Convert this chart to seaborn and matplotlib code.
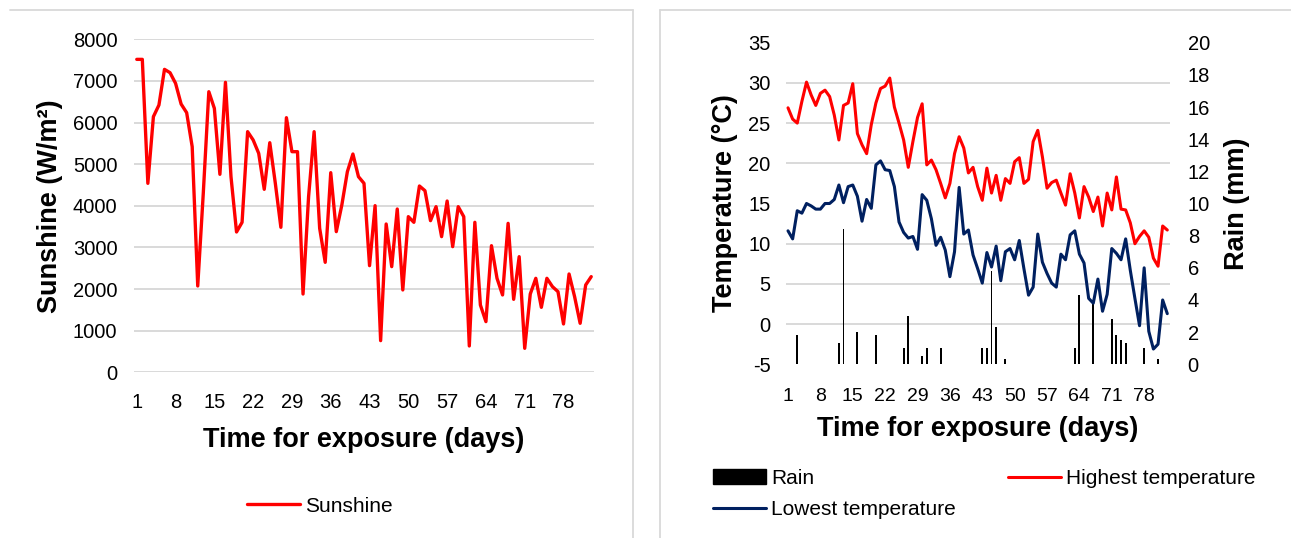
import numpy as np
import pandas as pd
import matplotlib
matplotlib.use("Agg")
import matplotlib.pyplot as plt
import seaborn as sns
from matplotlib.patches import Patch
from matplotlib.lines import Line2D

sns.set_theme(style="white")
plt.rcParams['font.family'] = ['Liberation Sans', 'DejaVu Sans']
plt.rcParams['text.color'] = 'black'
plt.rcParams['axes.labelcolor'] = 'black'
plt.rcParams['xtick.color'] = 'black'
plt.rcParams['ytick.color'] = 'black'

days = list(range(1, 84))
sunshine = [7518, 7518, 4540, 6141, 6421, 7278, 7198, 6942, 6445, 6237,
            5420, 2074, 4300, 6741, 6341, 4756, 6966, 4700, 3371, 3603,
            5781, 5581, 5260, 4396, 5516, 4540, 3483, 6117, 5300, 5300,
            1881, 4219, 5781, 3459, 2642, 4796, 3379, 4019, 4820, 5244,
            4700, 4540, 2562, 4003, 761, 3563, 2538, 3923, 1978, 3739,
            3603, 4476, 4363, 3643, 3979, 3259, 4115, 3018, 3979, 3739,
            633, 3603, 1617, 1217, 3042, 2258, 1858, 3579, 1753, 2778,
            576, 1881, 2258, 1561, 2258, 2058, 1938, 1161, 2362, 1817,
            1177, 2098, 2298]
high_temp = [26.9, 25.5, 25.0, 27.7, 30.1, 28.5, 27.2, 28.7, 29.1, 28.3,
             26.0, 22.9, 27.2, 27.5, 29.9, 23.7, 22.3, 21.2, 24.8, 27.5,
             29.3, 29.6, 30.6, 27.0, 25.0, 22.9, 19.5, 22.7, 25.7, 27.4,
             19.8, 20.4, 19.2, 17.5, 15.7, 17.5, 21.2, 23.3, 21.9, 18.8,
             19.5, 17.1, 15.4, 19.4, 16.3, 18.5, 15.4, 18.1, 17.5, 20.2,
             20.7, 17.5, 18.0, 22.7, 24.1, 20.8, 16.9, 17.6, 17.9, 16.3,
             14.8, 18.7, 16.3, 13.2, 17.1, 15.8, 14.0, 15.8, 12.2, 16.3,
             14.2, 18.3, 14.3, 14.2, 12.6, 10.0, 10.9, 11.6, 10.8, 8.2,
             7.2, 12.2, 11.7]
low_temp = [11.6, 10.6, 14.1, 13.8, 15.0, 14.7, 14.3, 14.3, 15.0, 15.0,
            15.5, 17.3, 15.1, 17.1, 17.3, 15.9, 12.8, 15.5, 14.4, 19.8,
            20.3, 19.2, 19.1, 17.1, 12.7, 11.4, 10.7, 10.9, 9.3, 16.1,
            15.4, 13.1, 9.8, 10.8, 9.2, 5.9, 9.0, 17.0, 11.2, 11.7,
            8.6, 6.9, 5.1, 8.9, 7.1, 9.7, 5.4, 9.0, 9.4, 8.0,
            10.4, 6.9, 3.6, 4.6, 11.2, 7.7, 6.3, 5.1, 4.6, 8.7,
            8.0, 11.1, 11.6, 8.7, 7.6, 3.2, 2.6, 5.6, 1.6, 3.7,
            9.4, 8.8, 8.0, 10.6, 6.7, 3.2, -0.2, 7.0, -0.9, -3.1,
            -2.5, 3.0, 1.3]
rain = [0, 0, 1.8, 0, 0, 0, 0, 0, 0, 0,
        0, 1.3, 8.4, 0, 0, 2.0, 0, 0, 0, 1.8,
        0, 0, 0, 0, 0, 1.0, 3.0, 0, 0, 0.5,
        1.0, 0, 0, 1.0, 0, 0, 0, 0, 0, 0,
        0, 0, 1.0, 1.0, 5.8, 2.3, 0, 0.3, 0, 0,
        0, 0, 0, 0, 0, 0, 0, 0, 0, 0,
        0, 0, 1.0, 4.3, 0, 0, 3.8, 0, 0, 0,
        2.8, 1.8, 1.5, 1.3, 0, 0, 0, 1.0, 0, 0,
        0.3, 0, 0]
x_ticks = days[::7]

RED = '#FF0000'
NAVY = '#002060'
GRID = '#D9D9D9'
TICK_FS = 14.5
TITLE_FS = 19.5
LEG_FS = 15

W, H = 1291, 538
fig = plt.figure(figsize=(W / 100, H / 100), dpi=100)


def fx(px):
    return px / W


def fy(py):
    return 1 - py / H


# chart area frames (top + inner vertical edges)
for xs, ys in [((10, 633), (10, 10)), ((633, 633), (10, 540)),
               ((660, 1291), (10, 10)), ((660, 660), (10, 540))]:
    fig.add_artist(Line2D([fx(xs[0]), fx(xs[1])], [fy(ys[0]), fy(ys[1])],
                          transform=fig.transFigure, color=GRID, lw=1.3))

# ---------------- left: sunshine ----------------
ax1 = fig.add_axes([fx(134), fy(372.3), 460 / W, 333 / H])
df1 = pd.DataFrame({'day': days, 'sun': sunshine})
sns.lineplot(data=df1, x='day', y='sun', color=RED, lw=2.4, ax=ax1, legend=False)
ax1.set_xlim(0.5, 83.5)
ax1.set_ylim(0, 8000)
ax1.set_yticks(np.arange(0, 8001, 1000))
ax1.set_xticks(x_ticks)
ax1.grid(axis='y', color=GRID, lw=1.4)
ax1.set_axisbelow(True)
for s in ax1.spines.values():
    s.set_visible(False)
ax1.tick_params(axis='both', length=0, labelsize=TICK_FS, colors='black')
ax1.tick_params(axis='y', pad=12)
ax1.tick_params(axis='x', pad=15)
ax1.set_xlabel('Time for exposure (days)', fontsize=TITLE_FS, fontweight='bold',
               labelpad=11, color='black')
ax1.set_ylabel('Sunshine (W/m²)', fontsize=TITLE_FS, fontweight='bold',
               labelpad=7, color='black')

fig.legend(handles=[Line2D([], [], color=RED, lw=2.4)], labels=['Sunshine'],
           loc='center', bbox_to_anchor=(fx(320), fy(506)), frameon=False,
           fontsize=LEG_FS, handlelength=2.55, handletextpad=0.25,
           borderpad=0, borderaxespad=0, labelcolor='black')

# ---------------- right: temperature & rain ----------------
ax2 = fig.add_axes([fx(785.7), fy(364.3), 383.9 / W, 321.6 / H])
ax2r = ax2.twinx()
df2 = pd.DataFrame({'day': days, 'high': high_temp, 'low': low_temp, 'rain': rain})

sns.barplot(data=df2, x='day', y='rain', native_scale=True, color='black',
            width=0.4, linewidth=0, saturation=1, ax=ax2r, errorbar=None)
ax2r.set_ylim(0, 20)
ax2r.set_yticks(np.arange(0, 21, 2))
ax2r.set_yticks(np.arange(0, 20.1, 2.5), minor=True)
ax2r.grid(axis='y', which='minor', color=GRID, lw=1.4)
ax2r.grid(axis='y', which='major', visible=False)
ax2r.set_axisbelow(True)

sns.lineplot(data=df2, x='day', y='high', color=RED, lw=2.2, ax=ax2, legend=False)
sns.lineplot(data=df2, x='day', y='low', color=NAVY, lw=2.2, ax=ax2, legend=False)
ax2.set_zorder(ax2r.get_zorder() + 1)
ax2.patch.set_visible(False)
ax2.set_ylim(-5, 35)
ax2.set_yticks(np.arange(-5, 36, 5))
ax2.set_yticklabels([str(v) for v in range(-5, 36, 5)])
ax2.set_xlim(0.5, 83.5)
ax2.set_xticks(x_ticks)
ax2.set_xticklabels([str(d) for d in x_ticks])
ax2.grid(False)
for a in (ax2, ax2r):
    for s in a.spines.values():
        s.set_visible(False)
    a.tick_params(axis='both', which='both', length=0, labelsize=TICK_FS, colors='black')
ax2.tick_params(axis='x', labelsize=TICK_FS - 0.5)
ax2r.tick_params(axis='x', labelbottom=False)
ax2.tick_params(axis='y', pad=11)
ax2r.tick_params(axis='y', pad=13)
ax2.tick_params(axis='x', pad=17)
ax2.set_xlabel('Time for exposure (days)', fontsize=TITLE_FS, fontweight='bold',
               labelpad=8, color='black')
ax2.set_ylabel('Temperature (°C)', fontsize=TITLE_FS, fontweight='bold',
               labelpad=7, color='black')
ax2r.set_ylabel('Rain (mm)', fontsize=TITLE_FS, fontweight='bold', labelpad=10,
                rotation=90, color='black')
ax2r.set_xlabel('')

handles = [Patch(facecolor='black', edgecolor='black'),
           Line2D([], [], color=NAVY, lw=2.2),
           Line2D([], [], color=RED, lw=2.2)]
labels = ['Rain', 'Lowest temperature', 'Highest temperature']
fig.legend(handles=handles, labels=labels, ncol=2, loc='upper left',
           bbox_to_anchor=(fx(713), fy(469)), frameon=False,
           fontsize=LEG_FS, handlelength=2.55, handletextpad=0.25,
           columnspacing=2.5, labelspacing=0.58, borderpad=0, borderaxespad=0,
           labelcolor='black')

fig.savefig('out.png', dpi=100, facecolor='white')
